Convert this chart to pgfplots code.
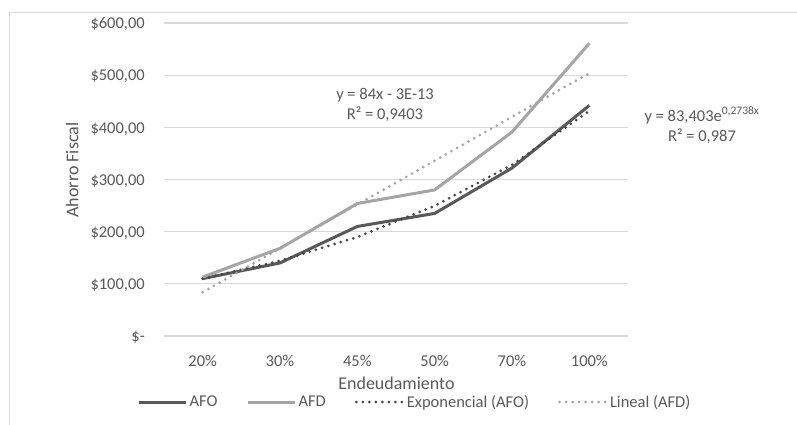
\documentclass[border=0pt]{standalone}
\usepackage{pgfplots}
\pgfplotsset{compat=1.18}
\usepackage{fontspec}
\setmainfont{Carlito}

\definecolor{txt}{HTML}{595959}
\definecolor{afo}{HTML}{595959}
\definecolor{afd}{HTML}{A5A5A5}
\definecolor{gridc}{HTML}{D9D9D9}

\begin{document}
\begin{tikzpicture}
\useasboundingbox (0bp,0bp) rectangle (797bp,425bp);
% chart frame (cropped on the right and bottom)
\draw[gridc, line width=1bp] (9bp,-5bp) -- (9bp,412bp) -- (805bp,412bp);

\begin{axis}[
    at={(164bp,89bp)}, anchor=south west,
    scale only axis,
    width=464bp, height=313bp,
    xmin=0.5, xmax=6.5,
    ymin=0, ymax=600,
    axis line style={draw=none},
    tick style={draw=none},
    ymajorgrids=true,
    grid style={gridc, line width=1.2bp},
    font=\fontsize{16.5bp}{20bp}\selectfont,
    every tick label/.append style={txt},
    xtick={1,2,3,4,5,6},
    xticklabels={20\%, 30\%, 45\%, 50\%, 70\%, 100\%},
    xticklabel style={anchor=base, yshift=-30bp},
    ytick={0,100,200,300,400,500,600},
    yticklabels={\$-, \$100{,}00, \$200{,}00, \$300{,}00, \$400{,}00, \$500{,}00, \$600{,}00},
    yticklabel style={anchor=base east, inner xsep=0pt, xshift=-19bp, yshift=-5.7bp},
    xlabel={Endeudamiento},
    ylabel={Ahorro Fiscal},
    label style={txt, font=\fontsize{18bp}{22bp}\selectfont},
    xlabel style={at={(axis description cs:0.501,-0.150)}, anchor=center},
    ylabel style={at={(axis description cs:-0.198,0.53)}, anchor=center},
    legend columns=4,
    legend style={at={(axis description cs:0.541,-0.211)}, anchor=center,
        draw=none, fill=none, text=txt,
        font=\fontsize{16.5bp}{20bp}\selectfont,
        /tikz/every even column/.append style={column sep=27bp}},
    legend image code/.code={\draw[#1] (0bp,0bp) -- (47bp,0bp);},
]

\addplot[afo, line width=3bp, line join=round] coordinates {
    (1,110) (2,140) (3,210) (4,235) (5,322) (6,442)
};
\addplot[afd, line width=3bp, line join=round] coordinates {
    (1,113) (2,168) (3,254) (4,280) (5,391) (6,561)
};
% tendencia exponencial (AFO): y = 83,403 e^{0,2738x}
\addplot[afo!80!black, line width=3bp, line cap=round, dash pattern=on 0bp off 6.5bp] coordinates {
    (1,109.7) (2,144.2) (3,189.7) (4,249.5) (5,328.1) (6,431.4)
};
% tendencia lineal (AFD): y = 84x
\addplot[afd, line width=3bp, line cap=round, dash pattern=on 0bp off 6.5bp] coordinates {
    (1,84) (2,168) (3,252) (4,336) (5,420) (6,504)
};

\legend{AFO, AFD, Exponencial (AFO), Lineal (AFD)}
\end{axis}

\node[txt, align=center, font=\fontsize{16.5bp}{20bp}\selectfont] at (385bp,320bp)
    {y = 84x - 3E-13\\R² = 0,9403};
\node[txt, align=center, font=\fontsize{16.5bp}{20bp}\selectfont] at (702bp,300bp)
    {y = 83,403e\textsuperscript{0,2738x}\\R² = 0,987};
\end{tikzpicture}
\end{document}
